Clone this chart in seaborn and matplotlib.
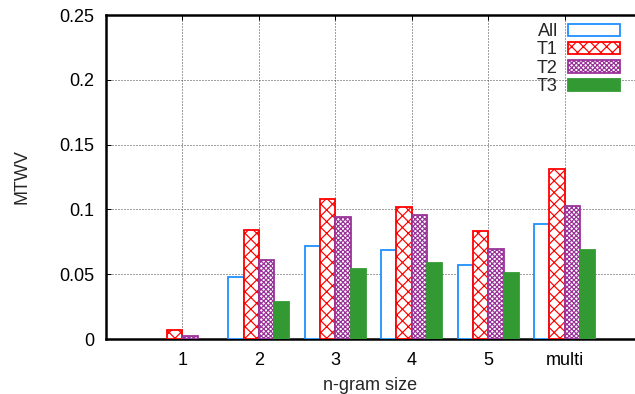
import matplotlib
matplotlib.use("Agg")
import matplotlib.pyplot as plt
import seaborn as sns
import pandas as pd
from matplotlib.patches import Patch

# ---- data ----
sizes = ["1", "2", "3", "4", "5", "multi"]
series = ["All", "T1", "T2", "T3"]
all_vals = [0.0, 0.048, 0.0715, 0.0686, 0.057, 0.0886]
t1_vals = [0.0069, 0.0838, 0.1077, 0.1018, 0.083, 0.1308]
t2_vals = [0.0023, 0.0613, 0.0944, 0.0955, 0.0696, 0.103]
t3_vals = [0.0, 0.0287, 0.054, 0.059, 0.051, 0.0686]
y_ticks = [0, 0.05, 0.1, 0.15, 0.2, 0.25]
y_tick_labels = ["0", "0.05", "0.1", "0.15", "0.2", "0.25"]

DPI = 140
W, H = 635, 394


def px(v):
    return v * 72.0 / DPI


sns.set_style("ticks")
plt.rcParams["font.family"] = ["Liberation Sans", "DejaVu Sans"]
plt.rcParams["hatch.linewidth"] = px(1.2)

rows = []
for name, vals in zip(series, [all_vals, t1_vals, t2_vals, t3_vals]):
    for s, v in zip(sizes, vals):
        rows.append({"size": s, "series": name, "value": v})
df = pd.DataFrame(rows)

styles = {
    "All": dict(face="white", edge="#1e8fff", hatch=None),
    "T1": dict(face="white", edge="#ff0000", hatch="xxxx"),
    "T2": dict(face="white", edge="#993399", hatch="xxxxxxxxxx"),
    "T3": dict(face="#339933", edge="#339933", hatch=None),
}

fig = plt.figure(figsize=(W / DPI, H / DPI), dpi=DPI)
ax = fig.add_axes([106 / W, (H - 339) / H, (W - 106) / W, (339 - 15) / H])

sns.barplot(data=df, x="size", y="value", hue="series", order=sizes,
            hue_order=series, palette=[styles[s]["face"] for s in series],
            width=0.8, legend=False, ax=ax, zorder=3)

for name, cont in zip(series, ax.containers):
    st = styles[name]
    for p in cont.patches:
        p.set_facecolor(st["face"])
        p.set_edgecolor(st["edge"])
        p.set_linewidth(px(1.8))
        if st["hatch"]:
            p.set_hatch(st["hatch"])
        if p.get_height() <= 0:
            p.set_visible(False)

ax.set_xlim(-1.0, 5.92)
ax.set_ylim(0, 0.25)
ax.set_yticks(y_ticks)
ax.set_yticklabels(y_tick_labels)
ax.set_xticks(range(len(sizes)))
ax.set_xticklabels(sizes)

ax.grid(True, linestyle=(0, (1, 2)), color="#444444", linewidth=px(1))
ax.set_axisbelow(True)

for side in ["top", "left", "bottom"]:
    ax.spines[side].set_visible(True)
    ax.spines[side].set_linewidth(px(2.5))
    ax.spines[side].set_color("black")
ax.spines["right"].set_visible(False)

ax.tick_params(axis="both", direction="in", length=px(5), width=px(1),
               labelsize=px(18), colors="black", top=True, right=False)
ax.tick_params(axis="y", pad=px(12))
ax.tick_params(axis="x", pad=px(13))

ax.set_xlabel("n-gram size", fontsize=px(18), labelpad=px(8))
ax.set_ylabel("MTWV", fontsize=px(18), labelpad=px(28))

handles = [Patch(facecolor=styles[s]["face"], edgecolor=styles[s]["edge"],
                 hatch=styles[s]["hatch"], linewidth=px(1.8)) for s in series]
ax.legend(handles, series, loc="upper right", frameon=False,
          markerfirst=False, fontsize=px(18),
          bbox_to_anchor=(620 / W, 1 - 23 / H), bbox_transform=fig.transFigure,
          borderpad=0, borderaxespad=0, handlelength=2.9, handleheight=0.67,
          labelspacing=0.08, handletextpad=0.55)

fig.savefig("out.png", dpi=DPI)
